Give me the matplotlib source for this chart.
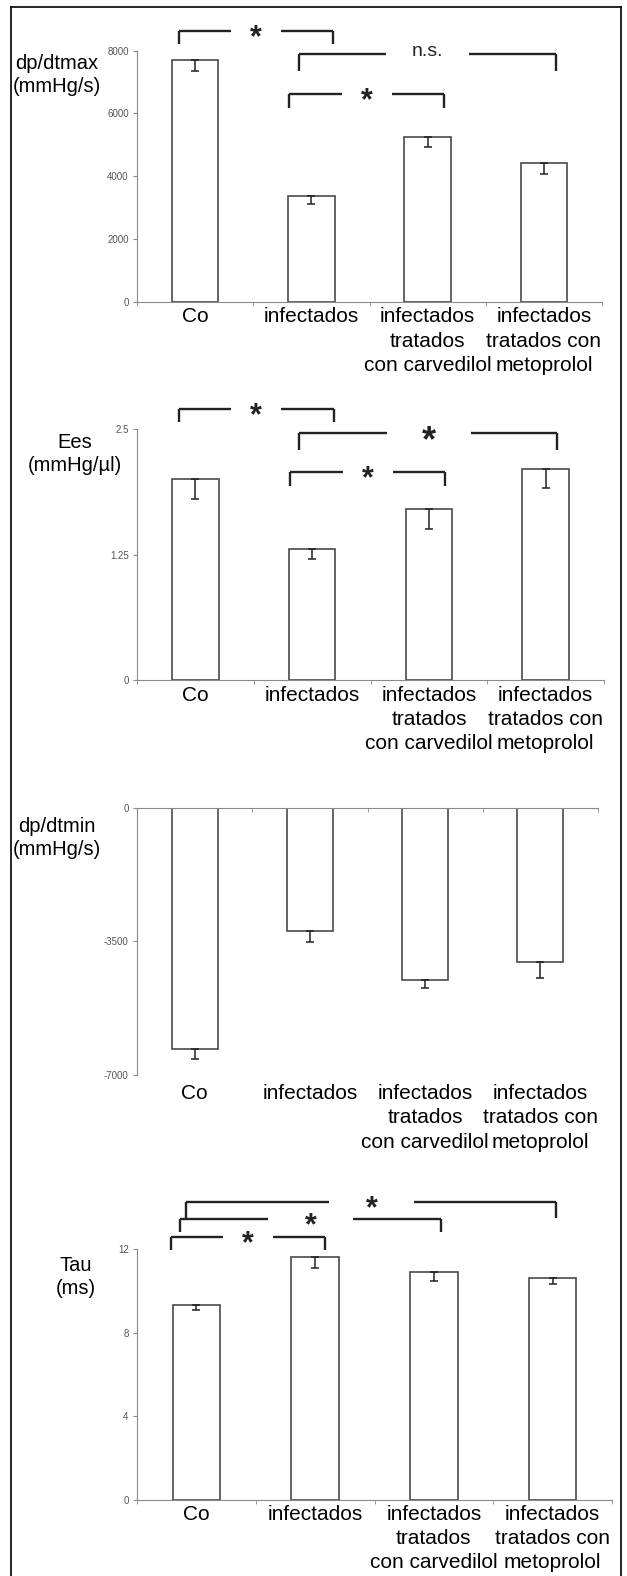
import matplotlib
matplotlib.use("Agg")
import matplotlib.pyplot as plt
import matplotlib.transforms as mtransforms
from matplotlib.lines import Line2D
import numpy as np

plt.rcParams["font.family"] = ["Liberation Sans", "DejaVu Sans"]

# ---- data ----
categories = ["Co", "infectados", "infectados\ntratados\ncon carvedilol",
              "infectados\ntratados con\nmetoprolol"]

dpdtmax = [7700, 3370, 5250, 4430]
dpdtmax_err = [350, 250, 310, 360]

ees = [2.0, 1.3, 1.7, 2.1]
ees_err = [0.2, 0.09, 0.2, 0.19]

dpdtmin = [-6330, -3230, -4520, -4045]
dpdtmin_err = [270, 300, 200, 430]

tau = [9.3, 11.6, 10.9, 10.6]
tau_err = [0.22, 0.5, 0.42, 0.29]

W, H = 627, 1576
EDGE = "#4a4a4a"
AXC = "#8a8a8a"
TXT = "#555555"


def rect(left, top, right, bottom):
    """pixel box -> figure fraction rect"""
    return [left / W, 1 - bottom / H, (right - left) / W, (bottom - top) / H]


def bracket(ax, x0, x1, y, yleg, text, tx, gap, size=22):
    # horizontal line with a gap for the text, plus the two legs
    kw = dict(color="#222222", lw=1.7, clip_on=False, transform=ax.get_xaxis_transform(),
              solid_capstyle="butt")
    ax.add_line(Line2D([x0, tx - gap], [y, y], **kw))
    ax.add_line(Line2D([tx + gap, x1], [y, y], **kw))
    ax.add_line(Line2D([x0, x0], [y, yleg], **kw))
    ax.add_line(Line2D([x1, x1], [y, yleg], **kw))
    if text == "*":
        ax.annotate(text, (tx, y), xycoords=ax.get_xaxis_transform(),
                    xytext=(0, -0.5 * size), textcoords="offset points",
                    ha="center", va="baseline", fontsize=size, color="#222222",
                    fontweight="bold", annotation_clip=False)
    else:
        ax.annotate(text, (tx, y), xycoords=ax.get_xaxis_transform(),
                    xytext=(0, 2), textcoords="offset points",
                    ha="center", va="center", fontsize=14, color="#222222",
                    annotation_clip=False)


def bar_panel(fig, box, vals, errs, ylim, yticks, yticklabels, ylabel, ylabel_xy,
              label_shift, negative=False, labelpad=4):
    ax = fig.add_axes(rect(*box))
    x = np.arange(len(vals))
    ax.bar(x, vals, width=0.4, color="white", edgecolor=EDGE, linewidth=1.2, zorder=2)
    ax.errorbar(x, vals, yerr=[errs, np.zeros(len(errs))], fmt="none",
                ecolor="#222222", elinewidth=1.1, capsize=3, capthick=1.1, zorder=3)
    ax.set_xlim(-0.5, len(vals) - 0.5)
    ax.set_ylim(*ylim)
    ax.set_yticks(yticks)
    ax.set_yticklabels(yticklabels)
    ax.set_xticks(x)
    ax.set_xticklabels(categories, fontsize=15, color="black", linespacing=1.36)
    # Excel-ish label placement, nudged sideways a bit
    for lab, dx in zip(ax.get_xticklabels(), label_shift):
        lab.set_transform(lab.get_transform() +
                          mtransforms.ScaledTranslation(dx / 100, 0, fig.dpi_scale_trans))
    ax.set_xticks(np.arange(len(vals) + 1) - 0.5, minor=True)
    for s in ax.spines.values():
        s.set_visible(False)
    ax.spines["left"].set_visible(True)
    ax.spines["left"].set_color(AXC)
    ax.tick_params(axis="y", length=3, color=AXC, labelsize=7, labelcolor=TXT, pad=3)
    if negative:
        ax.spines["top"].set_visible(True)
        ax.spines["top"].set_color(AXC)
        ax.tick_params(axis="x", which="minor", top=True, bottom=False,
                       direction="in", length=3, color=AXC)
    else:
        ax.spines["bottom"].set_visible(True)
        ax.spines["bottom"].set_color(AXC)
        ax.tick_params(axis="x", which="minor", bottom=True, length=3, color=AXC)
    ax.tick_params(axis="x", which="major", length=0, pad=labelpad)
    fig.text(ylabel_xy[0] / W, 1 - ylabel_xy[1] / H, ylabel, ha="center", va="center",
             fontsize=14.5, linespacing=1.3)
    return ax


fig = plt.figure(figsize=(W / 100, H / 100), dpi=100)

# frame around the whole figure (open at the bottom)
for xs, ys in [([11, 11], [7, H]), ([11, 621], [7, 7]), ([621, 621], [7, H])]:
    fig.add_artist(Line2D([x / W for x in xs], [1 - y / H for y in ys],
                          color="black", lw=1.2, transform=fig.transFigure))

# panel 1: dp/dtmax
ax1 = bar_panel(fig, (137, 50.7, 602, 301.7), dpdtmax, dpdtmax_err, (0, 8000),
                [0, 2000, 4000, 6000, 8000], ["0", "2000", "4000", "6000", "8000"],
                "dp/dtmax\n(mmHg/s)", (57, 75), [-4, -17, -14, 6])
bracket(ax1, -0.14, 1.19, 1.080, 1.026, "*", 0.52, 0.215)
bracket(ax1, 0.89, 3.10, 0.985, 0.918, "n.s.", 2.0, 0.36)
bracket(ax1, 0.81, 2.14, 0.8275, 0.773, "*", 1.478, 0.215)

# panel 2: Ees
ax2 = bar_panel(fig, (137, 429, 604, 680), ees, ees_err, (0, 2.5),
                [0, 1.25, 2.5], ["0", "1.25", "2.5"],
                "Ees\n(mmHg/\u00b5l)", (75, 454), [-2, -15, -12, 7])
bracket(ax2, -0.14, 1.19, 1.080, 1.026, "*", 0.52, 0.215)
bracket(ax2, 0.89, 3.10, 0.985, 0.918, "*", 2.0, 0.36, size=26)
bracket(ax2, 0.81, 2.14, 0.8275, 0.773, "*", 1.478, 0.215)

# panel 3: dp/dtmin (negative bars, axis on top, labels below)
ax3 = bar_panel(fig, (137, 807.7, 598, 1074.7), dpdtmin, dpdtmin_err, (-7000, 0),
                [-7000, -3500, 0], ["-7000", "-3500", "0"],
                "dp/dtmin\n(mmHg/s)", (57, 838), [-3, -14, -12, 10],
                negative=True, labelpad=6.5)

# panel 4: Tau
ax4 = bar_panel(fig, (137, 1249, 612, 1499.7), tau, tau_err, (0, 12),
                [0, 4, 8, 12], ["0", "4", "8", "12"],
                "Tau\n(ms)", (76, 1277), [7, -8, -9, 8], labelpad=3.5)
bracket(ax4, -0.21, 1.08, 1.047, 0.996, "*", 0.435, 0.21)
bracket(ax4, -0.14, 2.06, 1.1185, 1.0666, "*", 0.96, 0.36)
bracket(ax4, -0.09, 3.03, 1.1887, 1.125, "*", 1.475, 0.36)

fig.savefig("out.png", dpi=100)
